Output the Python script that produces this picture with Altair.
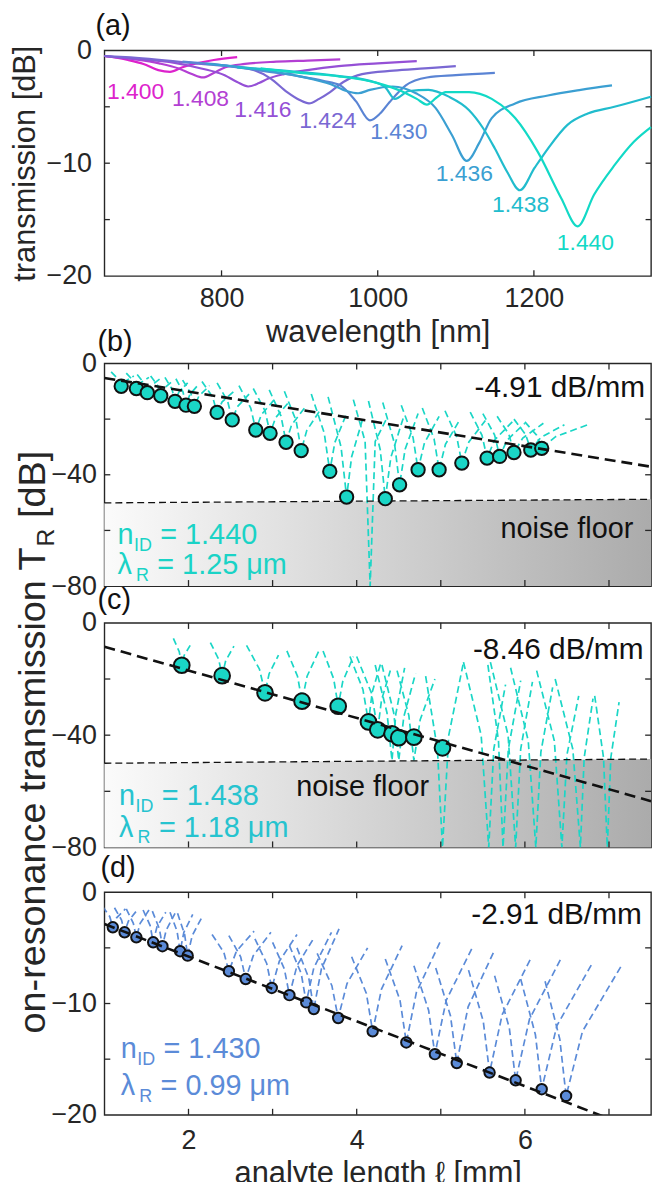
import altair as alt
import pandas as pd

FONT = "Liberation Sans"
INK = "#262626"
BLACK = "#111111"
W = 550

# ---------------- panel (a): transmission spectra ----------------
A_NAMES = ["1.400", "1.408", "1.416", "1.424", "1.430", "1.436", "1.438", "1.440"]
A_COLORS = ["#dd22cc", "#b33fd3", "#9550d6", "#7a68d3", "#5a84d4", "#3b9fd2", "#21bccd", "#12d9c6"]

A_WL_1400 = [650, 680, 700, 719, 734, 750, 765, 790, 820]
A_T_1400 = [-0.5, -0.85, -1.2, -1.75, -1.9, -1.5, -1.2, -0.85, -0.6]
A_WL_1408 = [650, 690, 720, 745, 762, 776, 790, 805, 830, 870, 910, 952]
A_T_1408 = [-0.5, -0.8, -1.15, -1.6, -2.1, -2.4, -2.0, -1.5, -1.2, -1.0, -0.9, -0.8]
A_WL_1416 = [650, 677, 740, 774, 804, 820, 834, 848, 860, 880, 910, 950, 1000, 1050]
A_T_1416 = [-0.5, -0.7, -1.1, -1.6, -2.2, -2.8, -3.2, -2.9, -2.5, -2.1, -1.75, -1.4, -1.15, -0.95]
A_WL_1424 = [650, 677, 774, 833, 863, 884, 900, 912, 925, 939, 956, 980, 1020, 1060, 1100]
A_T_1424 = [-0.5, -0.6, -1.2, -1.6, -2.5, -3.7, -4.4, -4.7, -4.3, -3.7, -2.8, -2.1, -1.8, -1.6, -1.4]
A_WL_1430 = [750, 800, 850, 900, 930, 952, 972, 990, 1003, 1015, 1036, 1063, 1100, 1150]
A_T_1430 = [-1.0, -1.3, -1.8, -2.3, -2.7, -3.1, -4.5, -6.2, -5.6, -4.6, -3.1, -2.4, -2.2, -2.0]
A_WL_1436 = [780, 850, 900, 940, 960, 975, 990, 1019, 1049, 1074, 1095, 1114, 1130, 1146, 1176, 1218, 1260, 1300]
A_T_1436 = [-1.2, -1.7, -2.3, -3.0, -3.6, -3.8, -3.5, -3.2, -3.8, -5.1, -7.5, -9.8, -8.2, -6.0, -4.7, -4.0, -3.5, -3.1]
A_WL_1438 = [820, 880, 940, 990, 1010, 1022, 1040, 1065, 1091, 1117, 1135, 1150, 1166, 1182, 1201, 1218, 1243, 1269, 1303, 1350]
A_T_1438 = [-1.5, -1.8, -2.2, -2.7, -3.3, -4.3, -3.6, -3.5, -4.1, -5.3, -6.9, -8.7, -10.8, -12.4, -10.4, -8.7, -6.6, -5.6, -5.0, -4.1]
A_WL_1440 = [850, 900, 950, 1000, 1030, 1050, 1063, 1075, 1087, 1117, 1146, 1176, 1205, 1235, 1256, 1277, 1303, 1328, 1350]
A_T_1440 = [-1.6, -2.0, -2.3, -2.9, -3.6, -4.3, -4.8, -4.2, -3.7, -3.7, -4.3, -6.0, -9.0, -13.1, -15.6, -12.8, -10.2, -8.1, -6.8]

A_LABEL_WL = [690, 773, 853, 936, 1027, 1111, 1183, 1266]
A_LABEL_T = [-3.7, -4.3, -5.3, -6.3, -7.2, -11.0, -13.7, -17.1]

A_X_DOMAIN = [650, 1350]
A_Y_DOMAIN = [-20, 0]
A_X_LABELS = [800, 1000, 1200]
A_Y_LABELS = [0, -10, -20]
A_Y_TICKS = [-5, -10, -15]

# ---------------- panels (b)-(d): on-resonance transmission ----------------
L_X_DOMAIN = [1, 7.5]
L_X_LABELS = [2, 4, 6]
L_X_TICKS = [2, 3, 4, 5, 6, 7]

# (b) n_ID = 1.440
B_L = [1.20, 1.38, 1.51, 1.67, 1.84, 1.97, 2.07, 2.34, 2.52, 2.80, 2.97, 3.16, 3.34,
       3.68, 3.88, 4.34, 4.51, 4.73, 4.98, 5.25, 5.55, 5.70, 5.87, 6.07, 6.20]
B_TR = [-8.2, -9.0, -10.5, -11.6, -13.6, -15.0, -15.4, -17.6, -20.3, -23.9, -25.1, -28.3, -31.3,
        -38.8, -48.0, -48.6, -43.6, -38.2, -38.2, -35.8, -34.0, -33.4, -32.0, -31.1, -30.5]
# dips: (centre, left half-width, right half-width, [top-left, mid-left, minimum, mid-right, top-right])
B_DIPS = [
    (1.20, 0.12, 0.15, [-3.0, -5.6, -8.2, -6.4, -4.5]),
    (1.38, 0.12, 0.15, [-3.5, -6.2, -9.0, -7.0, -5.0]),
    (1.51, 0.12, 0.15, [-4.0, -7.2, -10.5, -8.0, -5.5]),
    (1.67, 0.12, 0.15, [-4.5, -8.0, -11.6, -8.8, -6.0]),
    (1.84, 0.12, 0.15, [-5.0, -9.3, -13.6, -10.3, -7.0]),
    (1.97, 0.12, 0.15, [-5.5, -10.2, -15.0, -11.2, -7.5]),
    (2.07, 0.14, 0.18, [-6.0, -10.7, -15.4, -11.7, -8.0]),
    (2.34, 0.18, 0.20, [-6.5, -12.0, -17.6, -13.8, -10.0]),
    (2.52, 0.18, 0.20, [-7.0, -13.6, -20.3, -15.6, -11.0]),
    (2.80, 0.20, 0.22, [-8.0, -16.0, -23.9, -18.4, -13.0]),
    (2.97, 0.20, 0.22, [-9.0, -17.0, -25.1, -19.5, -14.0]),
    (3.16, 0.20, 0.22, [-9.5, -18.9, -28.3, -22.1, -16.0]),
    (3.34, 0.20, 0.22, [-10.0, -20.6, -31.3, -24.1, -17.0]),
    (3.68, 0.22, 0.20, [-11.0, -25.0, -38.8, -28.4, -18.0]),
    (3.88, 0.22, 0.20, [-12.0, -30.0, -48.0, -33.5, -19.0]),
    (4.16, 0.20, 0.20, [-13.0, -28.0, -80.0, -28.0, -19.5]),
    (4.34, 0.20, 0.22, [-13.5, -31.0, -48.6, -33.8, -19.0]),
    (4.51, 0.20, 0.22, [-14.0, -28.8, -43.6, -30.8, -18.0]),
    (4.73, 0.20, 0.25, [-15.0, -26.6, -38.2, -28.6, -19.0]),
    (4.98, 0.20, 0.25, [-16.0, -27.1, -38.2, -29.1, -20.0]),
    (5.25, 0.20, 0.28, [-17.0, -26.4, -35.8, -28.2, -20.5]),
    (5.55, 0.20, 0.30, [-17.5, -25.8, -34.0, -27.5, -21.0]),
    (5.70, 0.20, 0.30, [-18.0, -25.7, -33.4, -27.5, -21.5]),
    (5.87, 0.20, 0.35, [-19.0, -25.5, -32.0, -26.8, -21.5]),
    (6.07, 0.20, 0.40, [-20.0, -25.6, -31.1, -26.6, -22.0]),
    (6.20, 0.20, 0.55, [-21.0, -25.8, -30.5, -26.3, -22.0]),
]
B_FIT_X = [1.0, 7.5]
B_FIT_Y = [-5.2, -37.1]
B_NOISE_X = [1.0, 7.5]
B_NOISE_Y = [-50.1, -48.8]

# (c) n_ID = 1.438
C_L = [1.92, 2.40, 2.91, 3.35, 3.78, 4.14, 4.25, 4.42, 4.50, 4.68, 5.02]
C_TR = [-15.1, -18.8, -24.9, -27.9, -29.7, -35.3, -38.1, -39.5, -40.9, -40.7, -44.5]
C_DIPS = [
    (1.92, 0.10, 0.10, [-5.5, -10.3, -15.1, -11.5, -8.0]),
    (2.40, 0.14, 0.14, [-7.0, -12.9, -18.8, -13.5, -8.3]),
    (2.91, 0.22, 0.16, [-8.0, -16.5, -24.9, -18.2, -11.5]),
    (3.35, 0.18, 0.20, [-10.0, -19.0, -27.9, -19.0, -10.0]),
    (3.78, 0.18, 0.18, [-10.0, -19.9, -29.7, -20.9, -12.0]),
    (4.14, 0.22, 0.15, [-12.0, -23.7, -35.3, -24.6, -14.0]),
    (4.25, 0.25, 0.15, [-12.0, -25.0, -38.1, -27.5, -17.0]),
    (4.42, 0.20, 0.15, [-15.0, -32.0, -49.0, -32.5, -16.0]),
    (4.50, 0.20, 0.20, [-15.0, -32.0, -49.0, -33.5, -18.0]),
    (4.68, 0.20, 0.25, [-17.0, -33.0, -49.0, -34.5, -20.0]),
    (5.02, 0.20, 0.25, [-19.0, -45.0, -80.0, -40.0, -14.0]),
    (5.57, 0.30, 0.20, [-14.0, -40.0, -80.0, -45.0, -22.0]),
    (5.74, 0.18, 0.21, [-15.0, -42.0, -80.0, -45.0, -20.6]),
    (5.89, 0.30, 0.20, [-14.0, -40.0, -80.0, -45.0, -21.0]),
    (6.13, 0.30, 0.20, [-16.0, -42.0, -80.0, -46.0, -23.0]),
    (6.44, 0.30, 0.20, [-17.0, -42.0, -80.0, -47.0, -26.0]),
    (6.66, 0.30, 0.15, [-20.0, -45.0, -80.0, -48.0, -27.0]),
    (6.98, 0.15, 0.14, [-26.0, -48.0, -80.0, -48.0, -28.2]),
]
C_FIT_X = [1.0, 7.5]
C_FIT_Y = [-8.5, -63.5]
C_NOISE_X = [1.0, 7.5]
C_NOISE_Y = [-50.0, -48.5]

# (d) n_ID = 1.430
D_L = [1.10, 1.24, 1.38, 1.58, 1.69, 1.90, 1.99, 2.48, 2.68, 2.99, 3.20, 3.40, 3.49,
       3.78, 4.19, 4.59, 4.93, 5.19, 5.58, 5.89, 6.20, 6.49]
D_TR = [-3.15, -3.6, -4.05, -4.5, -4.85, -5.3, -5.7, -7.1, -7.8, -8.6, -9.25, -9.9, -10.5,
        -11.3, -12.5, -13.5, -14.55, -15.35, -16.2, -16.9, -17.7, -18.3]
D_DIPS = [
    (1.10, 0.12, 0.15, [-1.3, -2.2, -3.15, -2.3, -1.5]),
    (1.24, 0.12, 0.15, [-1.4, -2.5, -3.6, -2.6, -1.6]),
    (1.38, 0.12, 0.15, [-1.5, -2.8, -4.05, -2.8, -1.6]),
    (1.58, 0.12, 0.15, [-1.6, -3.0, -4.5, -3.1, -1.8]),
    (1.69, 0.12, 0.15, [-1.7, -3.3, -4.85, -3.4, -1.9]),
    (1.90, 0.12, 0.15, [-1.8, -3.5, -5.3, -3.6, -2.0]),
    (1.99, 0.12, 0.18, [-1.9, -3.8, -5.7, -3.9, -2.1]),
    (2.48, 0.20, 0.30, [-3.8, -5.4, -7.1, -5.3, -3.5]),
    (2.68, 0.20, 0.30, [-3.9, -5.8, -7.8, -5.7, -3.6]),
    (2.99, 0.20, 0.30, [-4.2, -6.4, -8.6, -6.2, -3.8]),
    (3.20, 0.20, 0.30, [-4.5, -6.9, -9.25, -6.6, -4.0]),
    (3.40, 0.20, 0.30, [-4.8, -7.3, -9.9, -6.8, -3.6]),
    (3.49, 0.20, 0.30, [-5.0, -7.7, -10.5, -6.9, -3.3]),
    (3.78, 0.25, 0.35, [-5.5, -8.4, -11.3, -8.2, -5.0]),
    (4.19, 0.25, 0.35, [-5.8, -9.1, -12.5, -8.7, -4.8]),
    (4.59, 0.25, 0.40, [-6.0, -9.7, -13.5, -9.0, -4.5]),
    (4.93, 0.25, 0.45, [-6.6, -10.6, -14.55, -9.7, -4.9]),
    (5.19, 0.25, 0.45, [-6.8, -11.1, -15.35, -10.3, -5.2]),
    (5.58, 0.25, 0.50, [-7.0, -11.6, -16.2, -11.0, -5.8]),
    (5.89, 0.25, 0.55, [-7.5, -12.2, -16.9, -11.4, -5.8]),
    (6.20, 0.25, 0.60, [-7.8, -12.8, -17.7, -12.0, -6.4]),
    (6.49, 0.25, 0.65, [-8.0, -13.2, -18.3, -12.5, -6.7]),
]
D_FIT_X = [1.0, 7.5]
D_FIT_Y = [-2.86, -21.8]

CYAN = "#1ad6c6"
CYAN_TXT_B = "#1ad3c6"
CYAN_TXT_C = "#26c3cf"
BLUE = "#5b8bd8"


# ---------------- helpers ----------------
def tick_frame(xlabels, ylabels, xdom, ydom, xlen, ylen):
    rows = []
    for v in xlabels:
        rows.append({"x": v, "x2": v, "y": ydom[0], "y2": ydom[0] + ylen})
        rows.append({"x": v, "x2": v, "y": ydom[1], "y2": ydom[1] - ylen})
    for v in ylabels:
        rows.append({"x": xdom[0], "x2": xdom[0] + xlen, "y": v, "y2": v})
        rows.append({"x": xdom[1], "x2": xdom[1] - xlen, "y": v, "y2": v})
    return pd.DataFrame(rows)


def dip_frame(dips):
    rows = []
    for i, (xc, hl, hr, ys) in enumerate(dips):
        xs = [xc - hl, xc - 0.3 * hl, xc, xc + 0.3 * hr, xc + hr]
        for j, (xv, yv) in enumerate(zip(xs, ys)):
            rows.append({"dip": i, "order": j, "x": xv, "y": yv})
    return pd.DataFrame(rows)


def panel_label(text, dx, dy):
    return alt.Chart(pd.DataFrame({"k": [0]})).mark_text(
        text=text, align="left", baseline="alphabetic", fontSize=29, color=BLACK, font=FONT
    ).encode(x=alt.value(dx), y=alt.value(dy))


# ---------------- panel (a) ----------------
a_rows = []
for name, wl, tt in zip(A_NAMES,
                        [A_WL_1400, A_WL_1408, A_WL_1416, A_WL_1424, A_WL_1430, A_WL_1436, A_WL_1438, A_WL_1440],
                        [A_T_1400, A_T_1408, A_T_1416, A_T_1424, A_T_1430, A_T_1436, A_T_1438, A_T_1440]):
    for i, (w, v) in enumerate(zip(wl, tt)):
        a_rows.append({"name": name, "wl": w, "T": v, "i": i})
a_df = pd.DataFrame(a_rows)


def xa(field):
    return alt.X(f"{field}:Q", scale=alt.Scale(domain=A_X_DOMAIN, nice=False, zero=False),
                 axis=alt.Axis(values=A_X_LABELS, title="wavelength [nm]", format="d",
                               labelPadding=10, titlePadding=6))


def ya(field):
    return alt.Y(f"{field}:Q", scale=alt.Scale(domain=A_Y_DOMAIN, nice=False, zero=False),
                 axis=alt.Axis(values=A_Y_LABELS, title="transmission [dB]", format="d",
                               labelPadding=13, titlePadding=5))


color_a = alt.Color("name:N", scale=alt.Scale(domain=A_NAMES, range=A_COLORS), legend=None)

lines_a = alt.Chart(a_df).mark_line(strokeWidth=2.2, interpolate="monotone").encode(
    x=xa("wl"), y=ya("T"), color=color_a, order="i:Q")
labels_a = alt.Chart(pd.DataFrame({"name": A_NAMES, "wl": A_LABEL_WL, "T": A_LABEL_T})).mark_text(
    fontSize=23, align="center", baseline="middle", font=FONT).encode(
    x=xa("wl"), y=ya("T"), text="name:N", color=color_a)
ticks_a = alt.Chart(tick_frame(A_X_LABELS, A_Y_TICKS, A_X_DOMAIN, A_Y_DOMAIN, 7, 0.5)).mark_rule(
    color=INK, strokeWidth=1.3).encode(x=xa("x"), x2="x2:Q", y=ya("y"), y2="y2:Q")

panel_a = alt.layer(lines_a, labels_a, ticks_a, panel_label("(a)", -9, -15)).properties(
    width=W, height=227)


# ---------------- panels (b)-(d) ----------------
def length_panel(L, TR, dips, fit_x, fit_y, noise_x, noise_y, ydom, ylabels, yticks, height,
                 dip_color, circ_color, circ_size, txt_color, n_text, lam_text, n_pos, lam_pos,
                 slope_text, slope_pos, floor_pos, floor_align, label, label_dx, label_dy, show_x, ytitle):
    def xf(field):
        axis = alt.Axis(values=L_X_LABELS, title="analyte length ℓ [mm]", format="d",
                        labelPadding=13, titlePadding=5) if show_x else None
        return alt.X(f"{field}:Q", scale=alt.Scale(domain=L_X_DOMAIN, nice=False, zero=False), axis=axis)

    def yf(field):
        return alt.Y(f"{field}:Q", scale=alt.Scale(domain=ydom, nice=False, zero=False),
                     axis=alt.Axis(values=ylabels, title=None, format="d", labelPadding=8))

    layers = []
    if noise_x:
        ndf = pd.DataFrame({"x": noise_x, "y": noise_y, "y2": [ydom[0]] * len(noise_x)})
        grad = alt.Gradient(gradient="linear",
                            stops=[alt.GradientStop(color="#fbfbfb", offset=0),
                                   alt.GradientStop(color="#ababab", offset=1)],
                            x1=0, x2=1, y1=0, y2=0)
        layers.append(alt.Chart(ndf).mark_area(color=grad, opacity=1).encode(
            x=xf("x"), y=yf("y"), y2="y2:Q"))
    layers.append(alt.Chart(dip_frame(dips)).mark_line(
        color=dip_color, strokeWidth=1.7, strokeDash=[7, 4], clip=True).encode(
        x=xf("x"), y=yf("y"), detail="dip:N", order="order:Q"))
    if noise_x:
        layers.append(alt.Chart(pd.DataFrame({"x": noise_x, "y": noise_y})).mark_line(
            color=BLACK, strokeWidth=1.3, strokeDash=[7, 4]).encode(x=xf("x"), y=yf("y")))
    layers.append(alt.Chart(pd.DataFrame({"x": L, "y": TR})).mark_circle(
        size=circ_size, opacity=1, fill=circ_color, stroke=BLACK, strokeWidth=2).encode(
        x=xf("x"), y=yf("y")))
    layers.append(alt.Chart(pd.DataFrame({"x": fit_x, "y": fit_y})).mark_line(
        color=BLACK, strokeWidth=2.6, strokeDash=[11, 6], clip=True).encode(x=xf("x"), y=yf("y")))
    # annotations
    layers.append(alt.Chart(pd.DataFrame({"x": [slope_pos[0]], "y": [slope_pos[1]], "t": [slope_text]})).mark_text(
        align="right", baseline="alphabetic", fontSize=30, color=BLACK, font=FONT).encode(
        x=xf("x"), y=yf("y"), text="t:N"))
    if floor_pos:
        layers.append(alt.Chart(pd.DataFrame({"x": [floor_pos[0]], "y": [floor_pos[1]], "t": ["noise floor"]})).mark_text(
            align=floor_align, baseline="alphabetic", fontSize=29, color=BLACK, font=FONT).encode(
            x=xf("x"), y=yf("y"), text="t:N"))
    for (main, sub, rest), pos, dxs, dxr in [
        (n_text, n_pos, 16.5, 43.0),
        (lam_text, lam_pos, 18.5, 40.0),
    ]:
        pdf = pd.DataFrame({"x": [pos[0]], "y": [pos[1]]})
        layers.append(alt.Chart(pdf).mark_text(
            text=main, align="left", baseline="alphabetic", fontSize=29, color=txt_color, font=FONT).encode(
            x=xf("x"), y=yf("y")))
        layers.append(alt.Chart(pdf).mark_text(
            text=sub, align="left", baseline="alphabetic", fontSize=18, dx=dxs, dy=7,
            color=txt_color, font=FONT).encode(x=xf("x"), y=yf("y")))
        layers.append(alt.Chart(pdf).mark_text(
            text=rest, align="left", baseline="alphabetic", fontSize=29, dx=dxr,
            color=txt_color, font=FONT).encode(x=xf("x"), y=yf("y")))
    tdf = tick_frame(L_X_TICKS, yticks, L_X_DOMAIN, ydom, 0.07, (ydom[1] - ydom[0]) * 0.027)
    layers.append(alt.Chart(tdf).mark_rule(color=INK, strokeWidth=1.3).encode(
        x=xf("x"), x2="x2:Q", y=yf("y"), y2="y2:Q"))
    layers.append(panel_label(label, label_dx, label_dy))
    if ytitle:
        one = pd.DataFrame({"k": [0]})
        fs = 38
        w1 = 12.893 * fs
        w2 = 0.722 * 25 + 0.278 * fs
        y0 = 120 + (w1 + w2 + 1.779 * fs) / 2
        layers.append(alt.Chart(one).mark_text(
            text="on-resonance transmission T", angle=270, align="left", baseline="alphabetic",
            fontSize=fs, color=INK, font=FONT).encode(x=alt.value(-60), y=alt.value(y0)))
        layers.append(alt.Chart(one).mark_text(
            text="R", angle=270, align="left", baseline="alphabetic",
            fontSize=25, color=INK, font=FONT).encode(x=alt.value(-51), y=alt.value(y0 - w1)))
        layers.append(alt.Chart(one).mark_text(
            text="[dB]", angle=270, align="left", baseline="alphabetic",
            fontSize=fs, color=INK, font=FONT).encode(x=alt.value(-60), y=alt.value(y0 - w1 - w2)))
    return alt.layer(*layers).properties(width=W, height=height)


panel_b = length_panel(
    B_L, B_TR, B_DIPS, B_FIT_X, B_FIT_Y, B_NOISE_X, B_NOISE_Y, [-80, 0], [0, -40, -80], [-20, -40, -60], 224,
    CYAN, CYAN, 180, CYAN_TXT_B, ("n", "ID", "= 1.440"), ("λ", "R", "= 1.25 μm"),
    (1.156, -65.0), (1.156, -75.7), "-4.91 dB/mm", (7.43, -12.0), (7.29, -62.6), "right",
    "(b)", -7, -13, False, False)

panel_c = length_panel(
    C_L, C_TR, C_DIPS, C_FIT_X, C_FIT_Y, C_NOISE_X, C_NOISE_Y, [-80, 0], [0, -40, -80], [-20, -40, -60], 226,
    CYAN, CYAN, 250, CYAN_TXT_C, ("n", "ID", "= 1.438"), ("λ", "R", "= 1.18 μm"),
    (1.175, -65.0), (1.175, -76.1), "-8.46 dB/mm", (7.41, -12.7), (3.28, -61.6), "left",
    "(c)", -7, -14, False, True)

panel_d = length_panel(
    D_L, D_TR, D_DIPS, D_FIT_X, D_FIT_Y, None, None, [-20, 0], [0, -10, -20], [-5, -10, -15], 224,
    BLUE, BLUE, 110, BLUE, ("n", "ID", "= 1.430"), ("λ", "R", "= 0.99 μm"),
    (1.195, -14.9), (1.195, -18.2), "-2.91 dB/mm", (7.39, -2.86), None, "left",
    "(d)", -4, -15, True, False)


def spacer(h):
    return alt.Chart(pd.DataFrame({"v": [0]})).mark_point(opacity=0).encode(
        x=alt.X("v:Q", axis=None), y=alt.Y("v:Q", axis=None)).properties(
        width=W, height=h, view=alt.ViewBackground(stroke="transparent", strokeWidth=0))


chart = alt.vconcat(
    panel_a, spacer(88), panel_b, spacer(37), panel_c, spacer(45), panel_d,
    spacing=0, bounds="flush", padding=0
).configure_view(
    stroke=INK, strokeWidth=1.4
).configure_axis(
    labelFont=FONT, titleFont=FONT, labelFontSize=27, titleFontSize=31, titleFontWeight="normal",
    labelColor=INK, titleColor=INK, grid=False, ticks=False, tickSize=0, domain=False
).configure_text(font=FONT).properties(background="white")

chart.save("out.html", embed_options={"renderer": "svg", "actions": False})
